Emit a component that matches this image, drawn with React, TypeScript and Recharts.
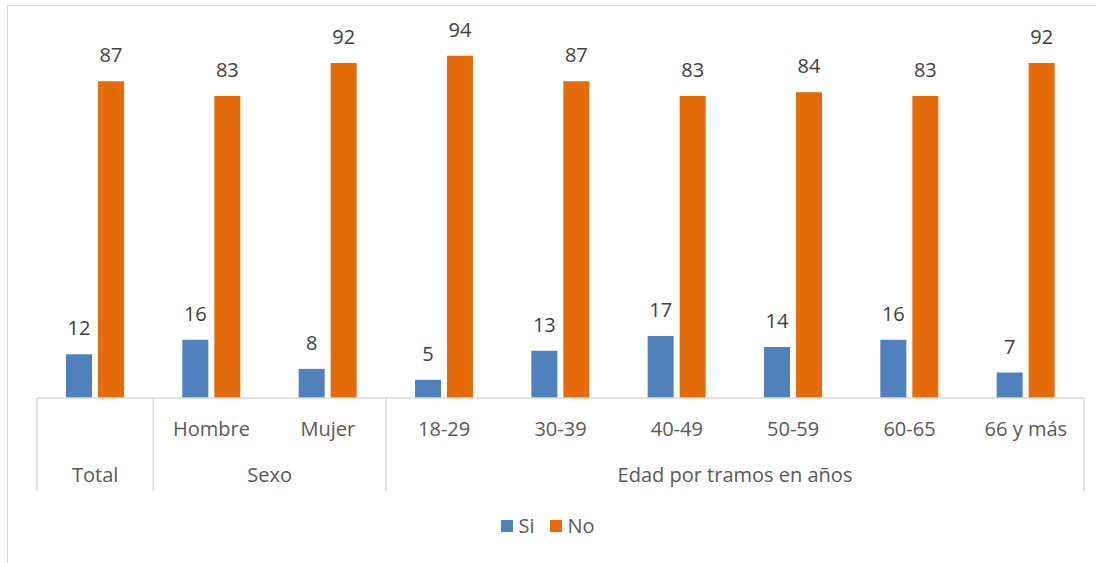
import React from "react";
import { BarChart, Bar, XAxis, YAxis, Legend, LabelList } from "recharts";

const categories = ["Total", "Hombre", "Mujer", "18-29", "30-39", "40-49", "50-59", "60-65", "66 y más"];
const siValues = [12, 16, 8, 5, 13, 17, 14, 16, 7];
const noValues = [87, 83, 92, 94, 87, 83, 84, 83, 92];

// group label, index of first and last category
const groups = [
  { label: "Total", from: 0, to: 0 },
  { label: "Sexo", from: 1, to: 2 },
  { label: "Edad por tramos en años", from: 3, to: 8 },
];

const series = [
  { key: "si", name: "Si", color: "#4F81BD" },
  { key: "no", name: "No", color: "#E46C0A" },
];

const data = categories.map((cat, i) => ({ cat, si: siValues[i], no: noValues[i] }));

const W = 1096;
const H = 563;
const margin = { top: 34, right: 12, left: 37, bottom: 38 };
const step = (W - margin.left - margin.right) / categories.length;
const font = "'Open Sans', sans-serif";
const textColor = "#595959";
const lineColor = "#d9d9d9";

const AxisTick = (props: any) => {
  const { x, y, index, payload } = props;
  const i = index;
  const parts: React.ReactNode[] = [];
  const top = y - 8;
  const isSingle = groups.some((g) => g.from === i && g.to === i);
  if (!isSingle) {
    parts.push(
      <text key="l" x={x} y={top + 38} textAnchor="middle" fill={textColor} fontSize={20} fontFamily={font}>
        {payload.value}
      </text>
    );
  }
  groups.forEach((g) => {
    if (g.from === i) {
      const cx = x + ((g.to - g.from) * step) / 2;
      parts.push(
        <text key={"g" + g.label} x={cx} y={top + 84} textAnchor="middle" fill={textColor} fontSize={20} fontFamily={font}>
          {g.label}
        </text>
      );
      parts.push(
        <line key={"s" + g.label} x1={x - step / 2} x2={x - step / 2} y1={top} y2={top + 93} stroke={lineColor} strokeWidth={1.5} />
      );
    }
    if (g.to === i && i === categories.length - 1) {
      parts.push(
        <line key="end" x1={x + step / 2} x2={x + step / 2} y1={top} y2={top + 93} stroke={lineColor} strokeWidth={1.5} />
      );
    }
  });
  return <g>{parts}</g>;
};

const LegendBox = () => (
  <div style={{ display: "flex", justifyContent: "center", gap: 16, fontFamily: font, fontSize: 20, color: textColor }}>
    {series.map((s) => (
      <div key={s.key} style={{ display: "flex", alignItems: "center" }}>
        <div style={{ width: 12, height: 12, background: s.color, marginRight: 5 }} />
        <span>{s.name}</span>
      </div>
    ))}
  </div>
);

export default function App() {
  return (
    <div style={{ position: "absolute", left: 0, top: 0, width: W, height: H, background: "#fff" }}>
      <div
        style={{
          position: "absolute",
          left: 7,
          top: 5,
          width: W,
          height: H,
          borderLeft: `1.5px solid ${lineColor}`,
          borderTop: `1.5px solid ${lineColor}`,
        }}
      />
      <BarChart width={W} height={H} data={data} margin={margin} barGap={6} barSize={26}>
        <XAxis
          dataKey="cat"
          axisLine={{ stroke: lineColor, strokeWidth: 1.5 }}
          tickLine={false}
          tick={<AxisTick />}
          interval={0}
          height={100}
        />
        <YAxis hide domain={[0, 100]} />
        <Legend
          verticalAlign="bottom"
          align="center"
          content={<LegendBox />}
          wrapperStyle={{ top: 512, left: 0, width: W }}
        />
        {series.map((s) => (
          <Bar key={s.key} dataKey={s.key} name={s.name} fill={s.color} isAnimationActive={false}>
            <LabelList dataKey={s.key} position="top" offset={19} fill="#404040" fontSize={20} fontFamily={font} />
          </Bar>
        ))}
      </BarChart>
    </div>
  );
}
